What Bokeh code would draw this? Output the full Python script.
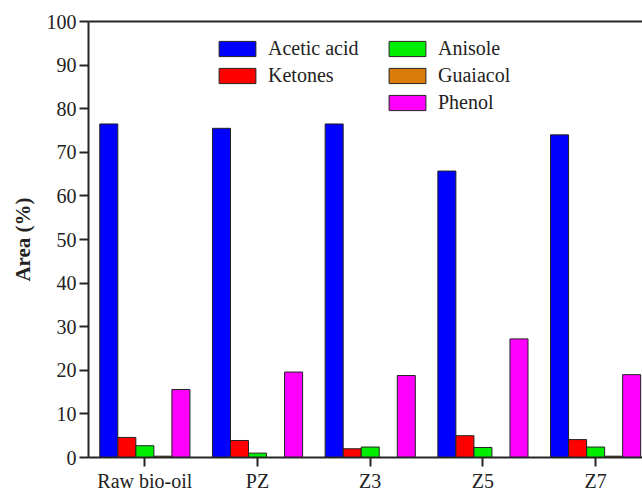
from bokeh.plotting import figure
from bokeh.models import Legend, LegendItem, LinearAxis, FixedTicker, Range1d
from bokeh.embed import file_html
from bokeh.resources import INLINE
import numpy as np

categories = ["Raw bio-oil", "PZ", "Z3", "Z5", "Z7"]
acetic_acid = [76.5, 75.5, 76.5, 65.7, 74.0]
ketones = [4.6, 3.9, 2.0, 5.0, 4.1]
anisole = [2.7, 1.0, 2.4, 2.3, 2.4]
guaiacol = [0.3, 0.0, 0.0, 0.0, 0.3]
phenol = [15.6, 19.6, 18.8, 27.2, 19.0]
series_names = ["Acetic acid", "Ketones", "Anisole", "Guaiacol", "Phenol"]
series_values = [acetic_acid, ketones, anisole, guaiacol, phenol]
series_colors = ["#0000FF", "#FF0000", "#00EE00", "#D97C0A", "#FF00FF"]
y_ticks = list(range(0, 101, 10))

FONT = "Liberation Serif"
AX = "#262626"

p = figure(frame_width=554, frame_height=436, output_backend="svg", toolbar_location=None,
           x_range=Range1d(-0.5, 4.416), y_range=Range1d(0, 100),
           min_border_left=88, min_border_right=0, min_border_top=21,
           min_border_bottom=33)
p.outline_line_color = None
p.xgrid.visible = False
p.ygrid.visible = False

xs = np.arange(len(categories))
bar_w = 0.16
renderers = []
for k, (name, vals, col) in enumerate(zip(series_names, series_values, series_colors)):
    r = p.vbar(x=xs + (k - 2) * bar_w, top=vals, bottom=0, width=bar_w,
               fill_color=col, line_color="#222222", line_width=1)
    renderers.append(r)

# axes
p.yaxis.ticker = FixedTicker(ticks=y_ticks)
p.xaxis.ticker = FixedTicker(ticks=list(xs))
p.xaxis.major_label_overrides = {int(i): c for i, c in zip(xs, categories)}
for ax in (p.xaxis[0], p.yaxis[0]):
    ax.axis_line_width = 2
    ax.axis_line_color = AX
    ax.major_tick_line_color = AX
    ax.major_tick_line_width = 2
    ax.major_tick_out = 9
    ax.major_tick_in = 0
    ax.minor_tick_line_color = None
    ax.major_label_text_font = FONT
    ax.major_label_text_font_size = "20px"
    ax.major_label_text_color = "#222222"
    ax.major_label_standoff = 3
p.xaxis.major_label_standoff = 3
p.yaxis.axis_label = "Area (%)"
p.yaxis.axis_label_text_font = FONT
p.yaxis.axis_label_text_font_style = "bold"
p.yaxis.axis_label_text_font_size = "21px"
p.yaxis.axis_label_text_color = "#222222"
p.yaxis.axis_label_standoff = 9

top_axis = LinearAxis(ticker=FixedTicker(ticks=[]), major_label_text_font_size="0px",
                      major_tick_out=0, major_tick_in=0, minor_tick_out=0, minor_tick_in=0,
                      major_label_standoff=0, axis_line_width=2, axis_line_color=AX)
p.add_layout(top_axis, "above")

def make_legend(idx, loc):
    leg = Legend(items=[LegendItem(label=series_names[i], renderers=[renderers[i]]) for i in idx],
                 location=loc, orientation="vertical", padding=0, margin=0, spacing=4,
                 glyph_width=46, glyph_height=19, label_height=19, label_standoff=8,
                 label_text_font=FONT, label_text_font_size="20px", label_text_color="#222222",
                 border_line_color=None, background_fill_alpha=0)
    p.add_layout(leg)

make_legend([0, 1], (126, 370))
make_legend([2, 3, 4], (296, 343))

open("out.html", "w").write(file_html(p, INLINE))
